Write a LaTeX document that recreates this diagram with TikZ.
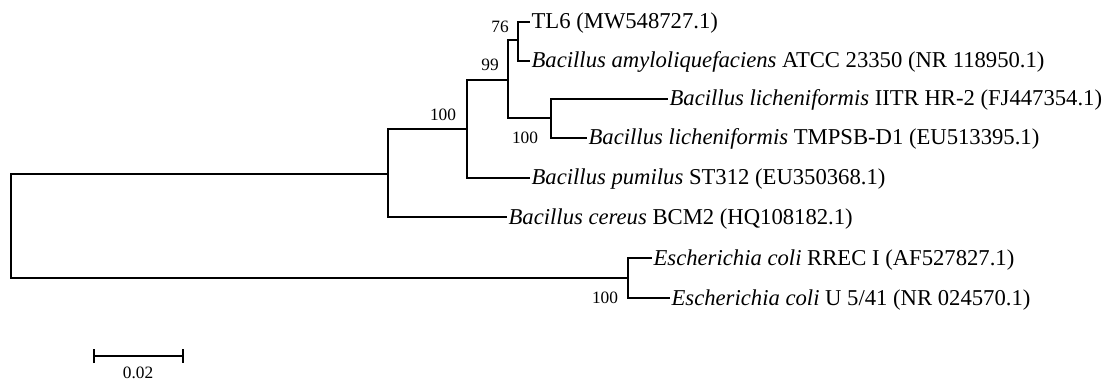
\documentclass[tikz,border=0pt]{standalone}
\usepackage{fontspec}
\setmainfont{Liberation Serif}
\usetikzlibrary{arrows.meta}

\begin{document}
\begin{tikzpicture}[
  x=0.75pt,y=-0.75pt,
  branch/.style={line width=1.5pt,color=black},
  leaf/.style={anchor=west,inner xsep=1pt,inner ysep=0pt,text height=14pt,text depth=3.5pt,font=\fontsize{17}{20}\selectfont},
  boot/.style={inner sep=0pt,font=\fontsize{13}{15}\selectfont},
  scalebar/.style={line width=1.5pt,{Bar[width=10.5pt,line width=1.5pt]}-{Bar[width=10.5pt,line width=1.5pt]}}
]
\useasboundingbox (0,0) rectangle (1103,381);

\coordinate (root) at (11,226);
\coordinate (bacall) at (388,174);
\coordinate (bacsub) at (467,129);
\coordinate (amylich) at (508,80);
\coordinate (amylo) at (518,40);
\coordinate (lichen) at (551,118);
\coordinate (ecoli) at (628,278);

\node[leaf] (tlsix) at (530,22) {TL6 (MW548727.1)};
\node[leaf] (bamy) at (530,61) {\textit{Bacillus amyloliquefaciens} ATCC 23350 (NR 118950.1)};
\node[leaf] (blia) at (668,99) {\textit{Bacillus licheniformis} IITR HR-2 (FJ447354.1)};
\node[leaf] (blib) at (587,138) {\textit{Bacillus licheniformis} TMPSB-D1 (EU513395.1)};
\node[leaf] (bpum) at (530,178) {\textit{Bacillus pumilus} ST312 (EU350368.1)};
\node[leaf] (bcer) at (507,217) {\textit{Bacillus cereus} BCM2 (HQ108182.1)};
\node[leaf] (ecola) at (652,258) {\textit{Escherichia coli} RREC I (AF527827.1)};
\node[leaf] (ecolb) at (670,298) {\textit{Escherichia coli} U 5/41 (NR 024570.1)};

\draw[branch] (root) |- (bacall);
\draw[branch] (root) |- (ecoli);
\draw[branch] (bacall) |- (bacsub);
\draw[branch] (bacall) |- (bcer.west);
\draw[branch] (bacsub) |- (amylich);
\draw[branch] (bacsub) |- (bpum.west);
\draw[branch] (amylich) |- (amylo);
\draw[branch] (amylich) |- (lichen);
\draw[branch] (amylo) |- (tlsix.west);
\draw[branch] (amylo) |- (bamy.west);
\draw[branch] (lichen) |- (blia.west);
\draw[branch] (lichen) |- (blib.west);
\draw[branch] (ecoli) |- (ecola.west);
\draw[branch] (ecoli) |- (ecolb.west);

\node[boot] at (500,27) {76};
\node[boot] at (490,65) {99};
\node[boot] at (443,115) {100};
\node[boot] at (525,138) {100};
\node[boot] at (605,298) {100};

\coordinate (barleft) at (93,356);
\coordinate (barright) at (184,356);
\draw[scalebar] (barleft) -- (barright);
\node[boot] (barlabel) at (138,373) {0.02};
\end{tikzpicture}
\end{document}
